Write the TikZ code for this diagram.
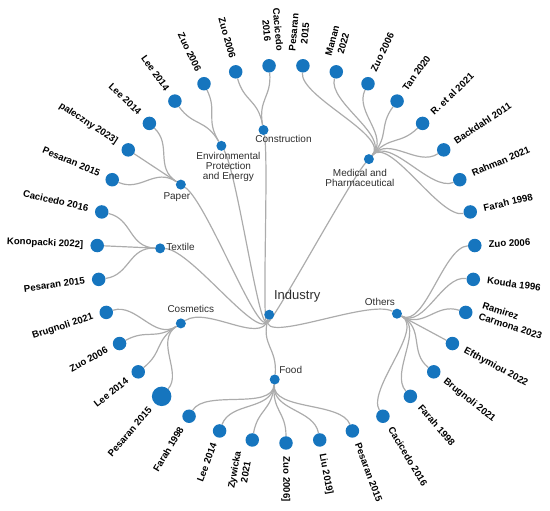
\documentclass[tikz,border=0pt]{standalone}
\usepackage{fontspec}
\setmainfont{Liberation Sans}
\usetikzlibrary{calc,backgrounds}
\definecolor{nodeblue}{RGB}{22,117,190}
\definecolor{linkgray}{RGB}{172,172,172}
\definecolor{labgray}{RGB}{45,45,45}
\begin{document}
\begin{tikzpicture}[x=1pt,y=-1pt,
  leaf/.style={circle,fill=nodeblue,minimum size=#1,inner sep=0pt},
  leaf/.default=13.5pt,
  innernode/.style={circle,fill=nodeblue,minimum size=10pt,inner sep=0pt},
  leaflab/.style={font=\fontsize{9.6}{11.5}\selectfont\bfseries,text=black,inner sep=0pt},
  grplab/.style={font=\fontsize{10}{10}\selectfont,text=labgray,inner sep=0pt,align=center},
  rootlab/.style={font=\fontsize{13}{15}\selectfont,text=labgray,inner sep=0pt},
  link/.style={draw=linkgray,line width=1.2pt}]
\useasboundingbox (0,0) rectangle (550,511);
\coordinate (C) at (286,254);
\pgfmathsetmacro{\s}{360/35}
% root
\node[innernode] (root) at ($(C)+({19*\s-90}:63)$) {};
% category nodes
\foreach \g/\m in {med/3.5, oth/11, food/17.5, cos/22.5, tex/26, pap/29, env/31.5, con/33.5} {
  \node[innernode] (\g) at ($(C)+({(\m+0.5)*\s-90}:126)$) {};
}
% leaves
\foreach \i/\sz/\al/\t in {
  0/13.5/center/{Pesaran\\2015}, 1/13.5/center/{Manan\\2022}, 2/13.5/center/{Zuo 2006},
  3/13.5/center/{Tan 2020}, 4/13.5/center/{R. et al 2021}, 5/13.5/center/{Backdahl 2011},
  6/13.5/center/{Rahman 2021}, 7/13.5/center/{Farah 1998},
  8/13.5/center/{Zuo 2006}, 9/13.5/center/{Kouda 1996}, 10/13.5/left/{Ramirez\\Carmona 2023},
  11/13.5/center/{Efthymiou 2022}, 12/13.5/center/{Brugnoli 2021}, 13/13.5/center/{Farah 1998},
  14/13.5/center/{Cacicedo 2016},
  15/13.5/center/{Pesaran 2015}, 16/13.5/center/{Liu 2019]}, 17/13.5/center/{Zuo 2006]},
  18/13.5/center/{Zywicka\\2021}, 19/13.5/center/{Lee 2014}, 20/13.5/center/{Farah 1998},
  21/19.5/center/{Pesaran 2015}, 22/13.5/center/{Lee 2014}, 23/13.5/center/{Zuo 2006},
  24/13.5/center/{Brugnoli 2021},
  25/13.5/center/{Pesaran 2015}, 26/13.5/center/{Konopacki 2022]}, 27/13.5/center/{Cacicedo 2016},
  28/13.5/center/{Pesaran 2015}, 29/13.5/center/{paleczny 2023]}, 30/13.5/center/{Lee 2014},
  31/13.5/center/{Lee 2014}, 32/13.5/center/{Zuo 2006},
  33/13.5/center/{Zuo 2006}, 34/13.5/center/{Cacicedo\\2016}} {
  \pgfmathsetmacro{\a}{(\i+0.5)*\s-90}
  \pgfmathsetmacro{\ro}{189+\sz/2+7}
  \node[leaf=\sz pt] (l\i) at ($(C)+(\a:189)$) {};
  \pgfmathtruncatemacro{\lft}{\a>90.01 ? 1 : 0}
  \ifnum\lft=1
    \node[leaflab,align=\al,anchor=base east,rotate=180-\a] (t\i) at ($(C)+(\a:\ro)+({\a-90}:2.6)$) {\t};
  \else
    \node[leaflab,align=\al,anchor=base west,rotate=-\a] (t\i) at ($(C)+(\a:\ro)+({\a+90}:2.6)$) {\t};
  \fi
}
% labels of inner nodes
\node[grplab] (labpap) at ($(pap)+(-4,13)$) {Paper};
\node[grplab] (labenv) at ($(env)+(7,21)$) {Environmental\\Protection\\and Energy};
\node[grplab] (labcon) at ($(con)+(20,9)$) {Construction};
\node[grplab] (labmed) at ($(med)+(-9,19)$) {Medical and\\Pharmaceutical};
\node[grplab,anchor=west] (labtex) at ($(tex)+(6,-1)$) {Textile};
\node[grplab] (labcos) at ($(cos)+(10,-14)$) {Cosmetics};
\node[grplab] (labfood) at ($(food)+(16,-9.5)$) {Food};
\node[grplab] (laboth) at ($(oth)+(-17,-12)$) {Others};
\node[rootlab] (labroot) at ($(root)+(28,-19)$) {Industry};
% links
\begin{scope}[on background layer]
  \foreach \g/\m in {med/3.5, oth/11, food/17.5, cos/22.5, tex/26, pap/29, env/31.5, con/33.5} {
    \draw[link] (root) .. controls ($(C)+({19*\s-90}:94.5)$) and ($(C)+({(\m+0.5)*\s-90}:94.5)$) .. (\g);
  }
  \foreach \g/\m/\f/\l in {med/3.5/0/7, oth/11/8/14, food/17.5/15/20, cos/22.5/21/24, tex/26/25/27, pap/29/28/30, env/31.5/31/32, con/33.5/33/34} {
    \foreach \i in {\f,...,\l} {
      \draw[link] (\g) .. controls ($(C)+({(\m+0.5)*\s-90}:157.5)$) and ($(C)+({(\i+0.5)*\s-90}:157.5)$) .. (l\i);
    }
  }
\end{scope}
\end{tikzpicture}
\end{document}
